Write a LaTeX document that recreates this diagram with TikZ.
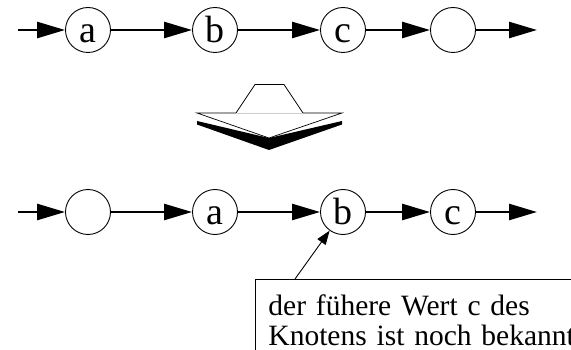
\documentclass[tikz,border=0pt]{standalone}
\usepackage{fontspec}
\setmainfont{Liberation Serif}
\usetikzlibrary{arrows.meta}
\begin{document}
\begin{tikzpicture}[x=1pt,y=-1pt,
  listnode/.style={circle,draw,line width=0.9pt,minimum size=45pt,inner sep=0pt,
    text height=26pt,text depth=0pt,font=\fontsize{38}{38}\selectfont},
  link/.style={line width=2.6pt,-{Triangle[length=28pt,width=16pt]}},
  pointer/.style={line width=0.9pt,-{Triangle[length=14pt,width=10pt]}}]
\clip (0,0) rectangle (571,350);

% list before the insertion
\coordinate (tin) at (18,30);
\node[listnode] (ta) at (88,30) {a};
\node[listnode] (tb) at (215,30) {b};
\node[listnode] (tc) at (343,30) {c};
\node[listnode] (te) at (453,30) {};
\coordinate (tout) at (537,30);
\draw[link] (tin) -- (ta);
\draw[link] (ta) -- (tb);
\draw[link] (tb) -- (tc);
\draw[link] (tc) -- (te);
\draw[link] (te) -- (tout);

% downward block arrow between the two lists
\fill[black] (197,121) -- (269,138) -- (342,121) -- (342,124.5) -- (269,150) -- (197,124.5) -- cycle;
\draw[fill=white,line width=0.7pt,line join=miter]
  (197,113) -- (236,113) -- (255,84.5) -- (284,84.5) -- (303,113) -- (342,113) -- (269,138) -- cycle;
\draw[black!20,line width=0.7pt] (237,113) -- (302,113);

% list after the insertion
\coordinate (bin) at (18,212);
\node[listnode] (be) at (88,212) {};
\node[listnode] (ba) at (215,212) {a};
\node[listnode] (bb) at (343,212) {b};
\node[listnode] (bc) at (453,212) {c};
\coordinate (bout) at (537,212);
\draw[link] (bin) -- (be);
\draw[link] (be) -- (ba);
\draw[link] (ba) -- (bb);
\draw[link] (bb) -- (bc);
\draw[link] (bc) -- (bout);

% note box
\node[draw,line width=0.9pt,anchor=north west,align=left,inner xsep=13pt,inner ysep=15.5pt,
  text width=420pt,font=\fontsize{29.5}{30}\selectfont] (note) at (255,279)
  {der fühere Wert c des\\Knotens ist noch bekannt};
\coordinate (tail) at (295,279);
\draw[pointer] (tail) -- (bb);
\end{tikzpicture}
\end{document}
